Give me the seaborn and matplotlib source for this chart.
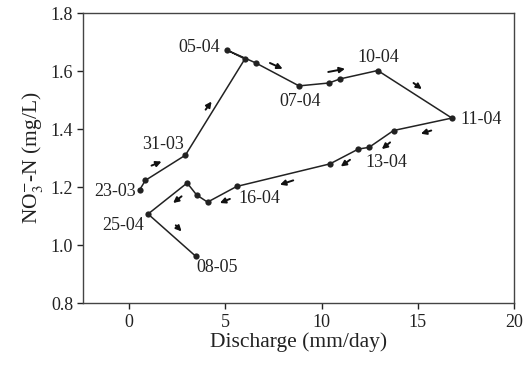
import numpy as np
import pandas as pd
import seaborn as sns
import matplotlib.pyplot as plt

sns.set_style("ticks")
plt.rcParams['font.family'] = ['Liberation Serif', 'DejaVu Serif']
plt.rcParams['mathtext.fontset'] = 'stix'

# hysteresis loop, in sampling order
discharge = [0.56, 0.85, 2.93, 6.02, 5.07, 6.59, 8.83, 10.39, 10.96, 12.92, 16.77,
             13.74, 12.47, 11.91, 10.44, 5.59, 4.08, 3.51, 3.02, 0.99, 3.47]
nitrate = [1.191, 1.223, 1.310, 1.642, 1.673, 1.628, 1.549, 1.559, 1.573, 1.602, 1.438,
           1.395, 1.337, 1.331, 1.280, 1.202, 1.148, 1.173, 1.214, 1.107, 0.961]

dates = ["23-03", "31-03", "05-04", "07-04", "10-04", "11-04", "13-04", "16-04", "25-04", "08-05"]
date_idx = [0, 2, 4, 6, 9, 10, 12, 15, 19, 20]

# direction arrows (tail x, tail y, head x, head y)
arr_x0 = [1.17, 3.98, 7.32, 10.35, 14.78, 15.70, 13.56, 11.48, 8.53, 5.24, 2.73, 2.43]
arr_y0 = [1.274, 1.467, 1.628, 1.597, 1.559, 1.395, 1.354, 1.294, 1.223, 1.159, 1.168, 1.068]
arr_x1 = [1.69, 4.29, 7.98, 11.22, 15.21, 15.16, 13.13, 11.00, 7.84, 4.72, 2.29, 2.73]
arr_y1 = [1.288, 1.495, 1.608, 1.608, 1.538, 1.384, 1.331, 1.271, 1.208, 1.145, 1.145, 1.047]

df = pd.DataFrame({"q": discharge, "n": nitrate})

fig = plt.figure(figsize=(5.24, 3.75), dpi=100)
ax = fig.add_axes([0.158, 0.192, 0.823, 0.773])

sns.lineplot(data=df, x="q", y="n", sort=False, estimator=None, color="#222222",
             lw=1.1, marker="o", markersize=4.5, markeredgewidth=0, ax=ax)

# label placement: (ha, dx, dy) in points
lab_pos = {
    "23-03": ("right", -2.4, -1.2),
    "31-03": ("right", -1.2, 7.4),
    "05-04": ("right", -4.8, 1.7),
    "07-04": ("center", 0.7, -11.3),
    "10-04": ("center", 0.4, 9.6),
    "11-04": ("left", 6.0, -1.2),
    "13-04": ("center", 12.2, -10.8),
    "16-04": ("left", 1.2, -8.4),
    "25-04": ("right", -3.1, -8.4),
    "08-05": ("left", 0.5, -8.4),
}
for d, i in zip(dates, date_idx):
    ha, dx, dy = lab_pos[d]
    ax.annotate(d, (discharge[i], nitrate[i]), xytext=(dx, dy), textcoords="offset points",
                ha=ha, va="center", fontsize=13, color="#222222")

for x0, y0, x1, y1 in zip(arr_x0, arr_y0, arr_x1, arr_y1):
    ax.annotate("", xy=(x1, y1), xytext=(x0, y0),
                arrowprops=dict(arrowstyle="-|>", color="#111111", lw=1.4, mutation_scale=8,
                                shrinkA=0, shrinkB=0))

ax.set_xlim(-2.4, 20)
ax.set_ylim(0.8, 1.8)
ax.set_xticks([0, 5, 10, 15, 20])
ax.set_yticks([0.8, 1.0, 1.2, 1.4, 1.6, 1.8])
ax.set_yticklabels(["0.8", "1.0", "1.2", "1.4", "1.6", "1.8"])
ax.tick_params(direction="out", length=4, width=1, labelsize=13, colors="#222222", pad=3)
ax.tick_params(axis="x", pad=4)
for s in ax.spines.values():
    s.set_color("#444444")
    s.set_linewidth(1.0)

ax.set_xlabel("Discharge (mm/day)", fontsize=15.5, labelpad=1, color="#222222")
ax.set_ylabel(r"NO$_3^{-}$-N (mg/L)", fontsize=15.5, labelpad=4, color="#222222")

plt.savefig("out.png", dpi=100)
